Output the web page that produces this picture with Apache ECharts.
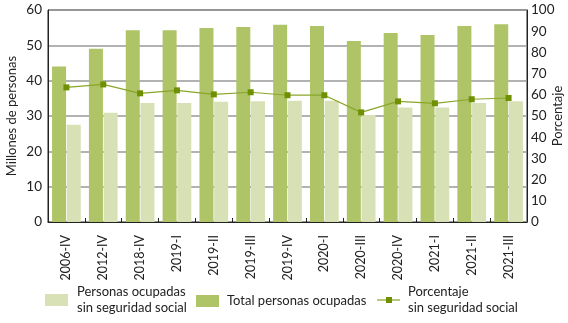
<!DOCTYPE html>
<html><head><meta charset="utf-8">
<script src="https://cdn.jsdelivr.net/npm/echarts@6/dist/echarts.min.js"></script>
<style>html,body{margin:0;padding:0;background:#fff}#c{width:568px;height:323px}</style>
</head><body><div id="c"></div>
<script>
var categories = ['2006-IV','2012-IV','2018-IV','2019-I','2019-II','2019-III','2019-IV','2020-I','2020-III','2020-IV','2021-I','2021-II','2021-III'];
var totalOcupadas = [44.0, 49.0, 54.3, 54.3, 54.9, 55.2, 55.8, 55.5, 51.2, 53.5, 52.9, 55.5, 56.0];
var sinSeguridad = [27.5, 30.9, 33.7, 33.7, 34.0, 34.2, 34.3, 34.3, 30.3, 32.4, 32.4, 33.7, 34.2];
var porcentaje = [63.5, 64.9, 60.7, 62.1, 60.2, 61.2, 59.8, 59.8, 51.7, 56.9, 56.0, 57.9, 58.5];
var leftTicks = {min: 0, max: 60, interval: 10};
var rightTicks = {min: 0, max: 100, interval: 10};

var FONT = 'Lato';
var chart = echarts.init(document.getElementById('c'), null, {renderer: 'canvas'});
var lh = 16;
function legendBase(left, top, name, icon, twoLine, gap, h) {
  return {
    left: left, top: top, orient: 'horizontal', padding: 0,
    data: [{name: name, icon: icon}],
    itemWidth: 23, itemHeight: h || 12, itemGap: 0,
    selectedMode: false,
    textStyle: {fontFamily: FONT, fontSize: 13, color: '#222', lineHeight: lh,
                padding: twoLine ? [lh, 0, 0, gap] : [0, 0, 0, gap]}
  };
}
var lineIcon = 'path://M0,2.5L23,2.5L23,3.5L0,3.5Z M9,0L15,0L15,6L9,6Z';
chart.setOption({
  animation: false,
  textStyle: {fontFamily: FONT},
  grid: {left: 48, right: 41, top: 10, bottom: 101, show: true, borderColor: '#222', borderWidth: 1,
         containLabel: false, outerBoundsMode: 'none'},
  legend: [
    legendBase(45, 276, 'Personas ocupadas\nsin seguridad social', 'rect', true, 4),
    legendBase(196, 293, 'Total personas ocupadas', 'rect', false, 3),
    legendBase(377, 276, 'Porcentaje\nsin seguridad social', lineIcon, true, 3, 6)
  ],
  xAxis: {
    type: 'category', data: categories, boundaryGap: true,
    axisLine: {lineStyle: {color: '#222', width: 1}},
    axisTick: {show: true, inside: true, length: 4, alignWithLabel: false, lineStyle: {color: '#222'}},
    axisLabel: {rotate: 90, fontFamily: FONT, fontSize: 12.5, color: '#222', margin: 13, interval: 0}
  },
  yAxis: [
    {type: 'value', min: leftTicks.min, max: leftTicks.max, interval: leftTicks.interval,
     name: 'Millones de personas', nameLocation: 'middle', nameGap: 30, nameRotate: 90, nameMoveOverlap: false,
     nameTextStyle: {fontFamily: FONT, fontSize: 13, color: '#222'},
     axisLine: {show: true, lineStyle: {color: '#222'}}, axisTick: {show: false},
     axisLabel: {fontFamily: FONT, fontSize: 13.5, color: '#222', margin: 6},
     splitLine: {show: true, lineStyle: {color: '#999', width: 1.5}}},
    {type: 'value', min: rightTicks.min, max: rightTicks.max, interval: rightTicks.interval,
     name: 'Porcentaje', nameLocation: 'middle', nameGap: 24, nameRotate: 90, nameMoveOverlap: false,
     nameTextStyle: {fontFamily: FONT, fontSize: 13, color: '#222'},
     axisLine: {show: true, lineStyle: {color: '#222'}}, axisTick: {show: false},
     axisLabel: {fontFamily: FONT, fontSize: 13.5, color: '#222', margin: 4},
     splitLine: {show: false}}
  ],
  series: [
    {name: 'Total personas ocupadas', type: 'bar', data: totalOcupadas, barWidth: 14, barGap: '5%',
     itemStyle: {color: '#afc466'}},
    {name: 'Personas ocupadas\nsin seguridad social', type: 'bar', data: sinSeguridad, barWidth: 14, barGap: '5%',
     itemStyle: {color: '#d8e1b6'}},
    {name: 'Porcentaje\nsin seguridad social', type: 'line', yAxisIndex: 1, data: porcentaje,
     symbol: 'rect', symbolSize: 6, z: 5,
     lineStyle: {color: '#8aa62a', width: 1.2},
     itemStyle: {color: '#6f9000', borderWidth: 0}}
  ]
});
</script></body></html>
